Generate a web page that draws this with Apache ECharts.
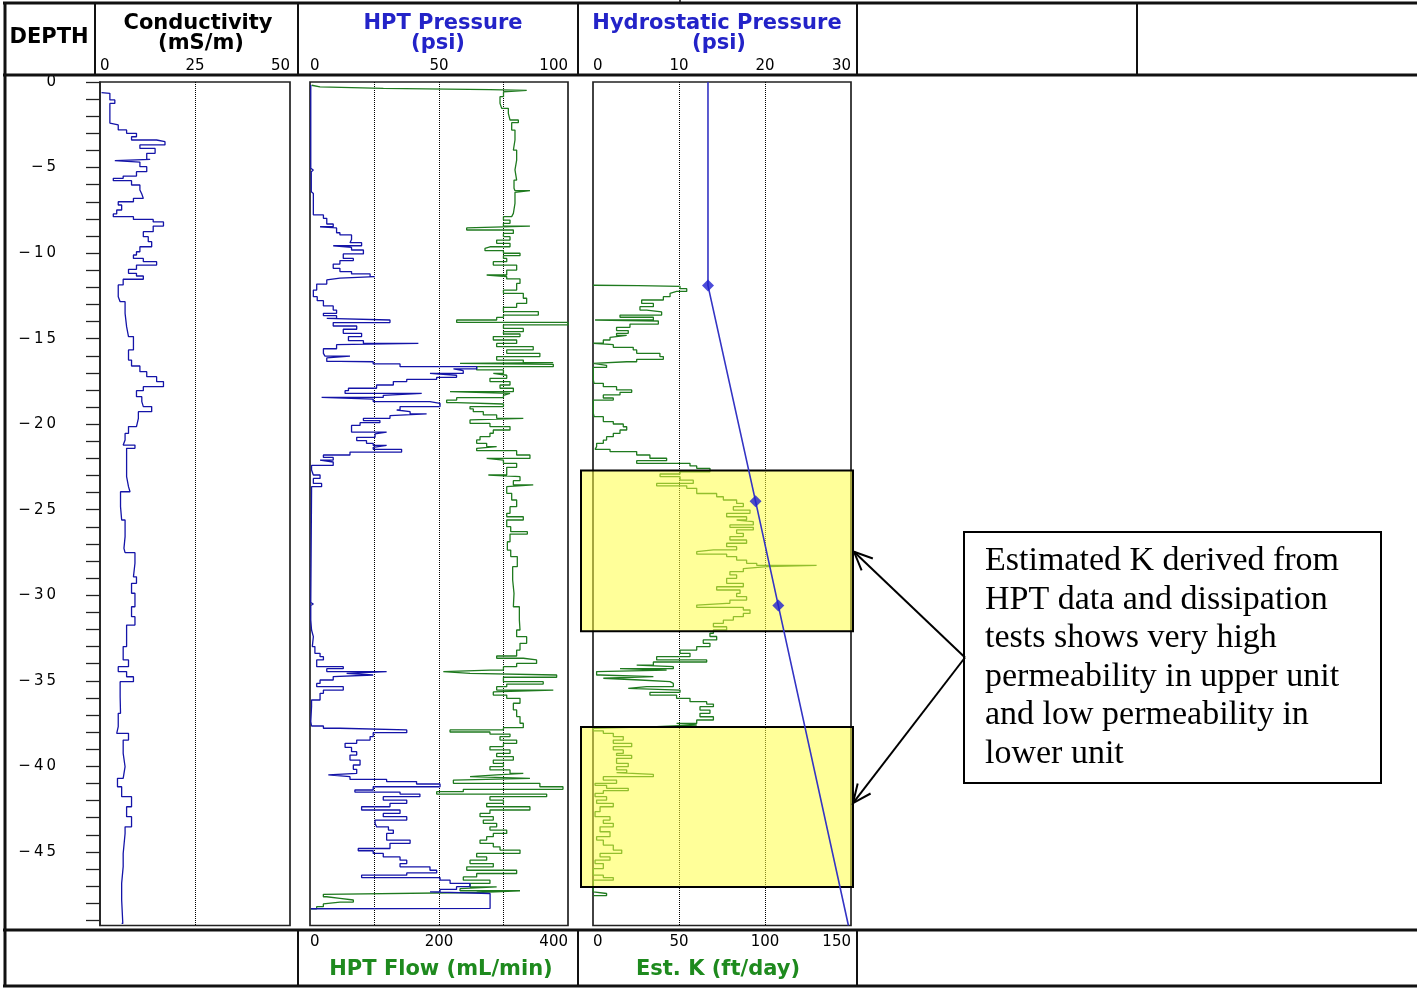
<!DOCTYPE html>
<html>
<head>
<meta charset="utf-8">
<script src="https://cdn.jsdelivr.net/npm/echarts@6/dist/echarts.min.js"></script>
<style>
  html, body { margin: 0; padding: 0; background: #fff; }
  #chart { width: 1417px; height: 988px; }
</style>
</head>
<body>
<div id="chart"></div>
<script>
// ---- Log data: [depth (ft), value] ----
const conductivity = [
  [-0.62, 0.4], [-0.66, 2.6], [-1.05, 3.9], [-1.25, 2.6], [-2.4, 2.6], [-2.51, 4.8], [-2.8, 7.0],
  [-3.0, 9.6], [-3.2, 8.3], [-3.39, 14.9], [-3.49, 17.1], [-3.68, 10.5], [-3.88, 14.5], [-4.17, 12.3],
  [-4.52, 13.2], [-4.6, 3.9], [-4.68, 10.5], [-4.95, 12.3], [-5.24, 9.6], [-5.5, 6.1], [-5.63, 3.5],
  [-5.77, 8.3], [-6.02, 10.5], [-6.31, 11.0], [-6.55, 11.4], [-6.8, 8.8], [-7.0, 4.8], [-7.19, 5.7],
  [-7.48, 4.4], [-7.71, 3.5], [-7.87, 8.8], [-8.03, 14.0], [-8.18, 16.7], [-8.42, 14.0], [-8.75, 11.4],
  [-9.04, 12.7], [-9.33, 13.6], [-9.63, 10.5], [-9.92, 9.6], [-10.11, 8.8], [-10.31, 11.4], [-10.5, 14.9],
  [-10.7, 9.6], [-10.95, 7.5], [-11.18, 9.6], [-11.34, 11.4], [-11.53, 6.1], [-11.86, 4.8], [-12.55, 5.3],
  [-12.84, 6.6], [-13.52, 7.0], [-14.3, 7.5], [-14.88, 8.8], [-15.66, 7.5], [-16.25, 8.3], [-16.6, 10.5],
  [-16.93, 12.3], [-17.22, 14.9], [-17.51, 16.7], [-17.81, 11.4], [-18.04, 9.6], [-18.39, 11.0],
  [-18.68, 11.4], [-18.97, 13.6], [-19.27, 10.1], [-19.66, 9.6], [-20.14, 7.5], [-20.54, 6.6],
  [-20.92, 6.1], [-21.22, 9.2], [-21.41, 7.0], [-22.3, 7.0], [-23.07, 7.5], [-23.65, 7.9], [-23.95, 5.4],
  [-24.82, 5.7], [-25.6, 6.6], [-26.57, 6.3], [-27.26, 6.6], [-27.51, 9.2], [-28.13, 8.8], [-28.92, 9.6],
  [-29.3, 8.3], [-29.88, 9.2], [-30.67, 8.3], [-31.25, 9.2], [-31.74, 7.0], [-32.22, 7.0], [-33.0, 6.1],
  [-33.78, 7.5], [-34.17, 4.8], [-34.46, 7.0], [-34.76, 8.8], [-35.05, 5.3], [-35.93, 5.4], [-36.9, 4.8],
  [-37.68, 4.4], [-38.07, 7.5], [-38.46, 6.1], [-39.24, 6.6], [-40.02, 6.1], [-40.7, 4.6], [-41.19, 5.7],
  [-41.77, 8.3], [-42.36, 7.0], [-42.94, 8.3], [-43.53, 6.6], [-43.92, 6.1], [-45.09, 6.1], [-45.86, 5.7],
  [-46.84, 5.7], [-47.81, 6.0], [-49.18, 5.7]
];

const hptPressure = [
  [-0.17, 0.3], [-5.05, 0.3], [-5.14, 1.3], [-5.24, 0.5], [-6.41, 0.8], [-6.51, 1.3], [-7.64, 1.3],
  [-7.77, 5.2], [-7.97, 6.5], [-8.3, 9.0], [-8.46, 3.9], [-8.53, 10.3], [-8.81, 11.6], [-8.94, 16.1],
  [-9.2, 15.5], [-9.39, 20.0], [-9.57, 9.0], [-9.67, 16.1], [-9.82, 20.7], [-10.05, 12.9], [-10.31, 16.8],
  [-10.44, 11.6], [-10.64, 9.0], [-10.89, 11.6], [-11.08, 16.1], [-11.22, 23.3], [-11.38, 25.2],
  [-11.46, 11.6], [-11.57, 6.5], [-11.81, 2.6], [-12.16, 1.3], [-12.55, 2.8], [-12.78, 5.2], [-13.09, 9.0],
  [-13.33, 10.3], [-13.52, 5.2], [-13.66, 10.3], [-13.81, 6.5], [-13.91, 31.0], [-14.06, 9.0],
  [-14.26, 18.1], [-14.45, 12.9], [-14.69, 20.0], [-14.88, 14.9], [-15.12, 20.7], [-15.28, 42.0],
  [-15.35, 10.3], [-15.59, 5.2], [-15.86, 5.8], [-16.02, 15.5], [-16.13, 6.5], [-16.33, 11.6],
  [-16.35, 24.5], [-16.48, 34.9], [-16.64, 64.6], [-16.77, 55.6], [-16.87, 59.4], [-17.03, 46.5],
  [-17.14, 56.8], [-17.26, 49.1], [-17.38, 37.5], [-17.51, 32.3], [-17.71, 25.8], [-17.9, 14.9],
  [-18.04, 13.6], [-18.2, 43.3], [-18.31, 28.4], [-18.43, 4.5], [-18.53, 24.5], [-18.68, 46.5],
  [-18.78, 50.4], [-18.97, 34.9], [-19.17, 33.6], [-19.27, 38.8], [-19.4, 45.2], [-19.5, 31.0],
  [-19.66, 20.7], [-19.79, 27.1], [-19.91, 19.4], [-20.07, 16.1], [-20.34, 16.1], [-20.46, 29.7],
  [-20.57, 25.2], [-20.77, 18.1], [-20.96, 21.9], [-21.12, 24.5], [-21.24, 29.7], [-21.35, 24.5],
  [-21.47, 35.5], [-21.63, 15.5], [-21.8, 5.2], [-21.94, 9.0], [-22.1, 3.9], [-22.21, 9.0], [-22.41, 0.6],
  [-22.68, 1.3], [-22.97, 3.9], [-23.17, 1.3], [-23.46, 4.5], [-23.65, 0.6], [-23.94, 0.3], [-30.43, 0.3],
  [-30.51, 1.3], [-30.59, 0.3], [-31.45, 0.6], [-32.03, 1.3], [-32.42, 0.9], [-33.0, 1.9], [-33.39, 3.9],
  [-33.59, 5.2], [-33.78, 2.6], [-34.17, 12.9], [-34.29, 6.5], [-34.46, 29.7], [-34.56, 14.2],
  [-34.66, 24.5], [-34.75, 9.0], [-34.95, 3.9], [-35.15, 2.6], [-35.34, 12.9], [-35.54, 5.2], [-35.73, 3.9],
  [-36.12, 0.6], [-36.51, 0.3], [-37.39, 0.6], [-37.64, 5.2], [-37.77, 11.6], [-37.87, 37.5], [-38.03, 24.5],
  [-38.26, 23.3], [-38.46, 18.1], [-38.65, 13.6], [-38.89, 16.1], [-39.14, 18.1], [-39.34, 15.5],
  [-39.63, 19.4], [-39.92, 16.8], [-40.17, 18.1], [-40.41, 18.7], [-40.5, 7.1], [-40.6, 15.5],
  [-40.76, 29.7], [-40.89, 41.3], [-41.03, 50.4], [-41.19, 24.5], [-41.38, 17.4], [-41.5, 34.9],
  [-41.62, 42.6], [-41.77, 28.4], [-41.97, 37.5], [-42.16, 31.0], [-42.36, 20.0], [-42.55, 34.9],
  [-42.75, 28.4], [-42.94, 37.5], [-43.14, 25.2], [-43.33, 25.8], [-43.53, 30.4], [-43.72, 32.3],
  [-43.92, 29.7], [-44.31, 38.8], [-44.5, 31.0], [-44.8, 18.7], [-44.93, 24.5], [-45.09, 28.4],
  [-45.29, 34.9], [-45.48, 37.5], [-45.68, 34.9], [-45.87, 46.5], [-46.07, 49.1], [-46.23, 37.5],
  [-46.36, 20.0], [-46.5, 50.4], [-46.65, 54.3], [-46.84, 62.0], [-47.03, 56.8], [-47.19, 50.4],
  [-47.33, 46.5], [-47.43, 69.8], [-48.3, 69.8], [-48.32, 0.3]
];

const hptFlow = [
  [-0.19, 2.6], [-0.29, 15.5], [-0.37, 113.7], [-0.45, 279], [-0.49, 336], [-0.57, 300], [-0.86, 294.6],
  [-1.25, 297.2], [-1.54, 307.5], [-1.83, 310.1], [-2.22, 323], [-2.38, 312.7], [-2.81, 317.8],
  [-3.39, 315.3], [-3.98, 320.4], [-4.56, 317.8], [-5.14, 320.4], [-5.73, 316.3], [-6.21, 317.8],
  [-6.35, 341], [-6.45, 317.8], [-7.09, 315.3], [-7.68, 312.7], [-7.87, 299.9], [-8.07, 310.1],
  [-8.26, 299.9], [-8.42, 341], [-8.53, 242.9], [-8.65, 315.3], [-8.85, 299.9], [-9.04, 310.1],
  [-9.24, 289.4], [-9.43, 310.1], [-9.63, 279], [-9.72, 271.3], [-9.86, 299.9], [-10.01, 325.6],
  [-10.15, 299.9], [-10.31, 305], [-10.5, 284.2], [-10.7, 320.4], [-10.99, 305], [-11.28, 273.9],
  [-11.38, 305], [-11.51, 325.6], [-11.77, 320.4], [-12.16, 299.9], [-12.35, 330.7], [-12.64, 335.9],
  [-12.94, 320.4], [-13.17, 299.9], [-13.42, 354], [-13.62, 299.9], [-13.76, 289.4], [-13.91, 227.4],
  [-14.05, 400], [-14.2, 299.9], [-14.4, 330.7], [-14.59, 299.9], [-14.73, 325.6], [-14.88, 284.2],
  [-15.08, 320.4], [-15.28, 289.4], [-15.47, 346.1], [-15.66, 305], [-15.86, 356.4], [-16.05, 289.4],
  [-16.25, 330.7], [-16.4, 377], [-16.44, 232.6], [-16.5, 377.2], [-16.64, 258.4], [-16.83, 299.9],
  [-17.03, 284.2], [-17.14, 305], [-17.32, 279], [-17.51, 310.1], [-17.71, 294.6], [-17.9, 315.3],
  [-18.1, 217.1], [-18.2, 310.1], [-18.31, 299.9], [-18.45, 227.4], [-18.59, 211.9], [-18.74, 227.4],
  [-18.82, 299.9], [-18.97, 248.1], [-19.11, 253.2], [-19.27, 268.7], [-19.46, 289.4], [-19.66, 330.7],
  [-19.75, 248.1], [-19.95, 279], [-20.14, 310.1], [-20.34, 284.2], [-20.53, 279], [-20.73, 263.6],
  [-20.92, 258.4], [-21.12, 273.9], [-21.31, 289.4], [-21.41, 258.4], [-21.55, 320.4], [-21.8, 341],
  [-22.0, 273.9], [-22.1, 299.9], [-22.29, 320.4], [-22.52, 305], [-22.97, 276.5], [-23.07, 325.6],
  [-23.3, 315.3], [-23.55, 346.1], [-23.65, 305], [-24.04, 312.7], [-24.43, 320.4], [-24.82, 310.1],
  [-25.21, 305], [-25.41, 330.7], [-25.6, 305], [-25.99, 311.2], [-26.28, 337], [-26.42, 310.1],
  [-26.87, 306], [-27.36, 311.2], [-27.74, 321.4], [-28.33, 314.2], [-29.11, 316.3], [-29.89, 315.3],
  [-30.67, 324.6], [-31.45, 325.6], [-32.03, 320.4], [-32.42, 335.9], [-32.81, 325.6], [-33.2, 320.4],
  [-33.55, 289.4], [-33.68, 330.7], [-33.78, 351.3], [-33.98, 320.4], [-34.17, 299.9], [-34.37, 279],
  [-34.46, 206.7], [-34.56, 248.1], [-34.66, 382.4], [-34.79, 299.9], [-35.05, 361.6], [-35.19, 305],
  [-35.34, 289.4], [-35.54, 377.2], [-35.65, 284.2], [-35.83, 305], [-36.02, 325.6], [-36.31, 315.3],
  [-36.7, 320.4], [-37.09, 325.6], [-37.48, 330.7], [-37.74, 299.9], [-37.87, 217.1], [-37.99, 279],
  [-38.11, 310.1], [-38.26, 294.6], [-38.46, 320.4], [-38.65, 299.9], [-38.85, 279], [-39.04, 310.1],
  [-39.24, 289.4], [-39.43, 315.3], [-39.63, 284.2], [-39.82, 299.9], [-40.02, 279], [-40.21, 310.1],
  [-40.41, 330.7], [-40.5, 289.4], [-40.6, 248.1], [-40.7, 341], [-40.8, 222.3], [-40.99, 356.4],
  [-41.19, 392.2], [-41.34, 237.7], [-41.48, 196.4], [-41.62, 366.9], [-41.77, 279], [-41.97, 299.9],
  [-42.16, 273.9], [-42.36, 341], [-42.55, 279], [-42.75, 263.6], [-42.94, 284.2], [-43.14, 268.7],
  [-43.33, 289.4], [-43.53, 279], [-43.72, 305], [-43.92, 284.2], [-44.11, 273.9], [-44.31, 263.6],
  [-44.5, 284.2], [-44.7, 294.6], [-44.89, 325.6], [-45.09, 258.4], [-45.29, 273.9], [-45.48, 248.1],
  [-45.68, 284.2], [-45.87, 243], [-46.07, 320.4], [-46.26, 258.4], [-46.46, 237.7], [-46.65, 279],
  [-46.84, 248.1], [-47.04, 289.4], [-47.15, 232.6], [-47.27, 325.6], [-47.37, 258.4], [-47.48, 20.7],
  [-47.62, 25.8], [-47.71, 46.5], [-47.81, 67.2], [-47.93, 46.5], [-48.04, 20.7], [-48.2, 10.3],
  [-48.32, 1]
];

const estK = [
  [-11.88, 0], [-11.9, 26.3], [-11.94, 50.6], [-12.08, 54.5], [-12.24, 48.6], [-12.35, 44.8],
  [-12.55, 40.9], [-12.74, 28.3], [-12.94, 35.1], [-13.13, 27.3], [-13.33, 31.2], [-13.44, 39.9],
  [-13.62, 15.7], [-13.75, 35.1], [-13.91, 1.2], [-13.97, 38], [-14.15, 21.5], [-14.34, 13.7],
  [-14.53, 20.5], [-14.69, 13.7], [-14.81, 19.6], [-14.92, 9.9], [-15.08, 6], [-15.27, 0.2],
  [-15.35, 11.8], [-15.51, 23.4], [-15.66, 25.4], [-15.86, 38.9], [-16.05, 40.9], [-16.21, 25.4],
  [-16.35, 19.6], [-16.45, 0.2], [-16.56, 7.9], [-16.68, 0.2], [-17.42, 0.6], [-17.61, 6],
  [-17.81, 13.7], [-18.0, 22.5], [-18.14, 15.7], [-18.29, 6], [-18.47, 11.8], [-18.59, 0.2],
  [-19.37, 0.6], [-19.56, 6], [-19.85, 11.8], [-19.99, 17.6], [-20.15, 19.6], [-20.34, 15.7],
  [-20.54, 11.8], [-20.73, 7.9], [-20.93, 6], [-21.12, 2.1], [-21.31, 1.2], [-21.47, 9.9], [-21.6, 25.4],
  [-21.8, 33.1], [-21.99, 42.8], [-22.13, 25.4], [-22.29, 56.4], [-22.44, 60.3], [-22.58, 68],
  [-22.78, 50.6], [-22.91, 39], [-23.07, 50.6], [-23.27, 58.3], [-23.46, 37], [-23.6, 54.5],
  [-23.75, 60.3], [-24.05, 71.9], [-24.24, 75.8], [-24.43, 83.5], [-24.63, 87.4], [-24.82, 81.6],
  [-25.02, 91.3], [-25.21, 77.7], [-25.41, 89.3], [-25.6, 83.5], [-25.7, 93.2], [-25.89, 79.6],
  [-26.03, 93.2], [-26.18, 83.5], [-26.38, 87.4], [-26.57, 79.6], [-26.77, 89.3], [-26.96, 77.7],
  [-27.16, 83.5], [-27.35, 70], [-27.45, 60.3], [-27.59, 77.7], [-27.74, 83.5], [-27.94, 89.3],
  [-28.13, 95.2], [-28.25, 130], [-28.33, 101], [-28.44, 87.4], [-28.62, 79.6], [-28.81, 83.5],
  [-29.01, 77.7], [-29.3, 87.4], [-29.5, 71.9], [-29.69, 85.5], [-29.89, 83.5], [-30.08, 89.3],
  [-30.28, 79.6], [-30.47, 77.7], [-30.57, 60.3], [-30.71, 87.4], [-30.86, 91.3], [-31.06, 87.4],
  [-31.25, 81.6], [-31.45, 75.8], [-31.64, 70], [-31.84, 77.7], [-32.03, 70], [-32.22, 68],
  [-32.41, 71.9], [-32.61, 64.1], [-32.81, 68], [-33.0, 60.3], [-33.2, 50.6], [-33.39, 56.4],
  [-33.59, 37], [-33.78, 66.1], [-33.9, 35.1], [-34.08, 25.4], [-34.17, 46.7], [-34.29, 15.7],
  [-34.37, 42.8], [-34.46, 2.1], [-34.66, 4.1], [-34.75, 35.1], [-34.85, 6], [-34.95, 27.3],
  [-35.05, 44.8], [-35.15, 46.7], [-35.34, 31.2], [-35.44, 20.5], [-35.54, 50.6], [-35.67, 33.1],
  [-35.83, 48.6], [-36.02, 56.4], [-36.22, 66.1], [-36.36, 70], [-36.51, 62.2], [-36.71, 68],
  [-36.9, 62.2], [-37.1, 70], [-37.29, 60.3], [-37.49, 48.6], [-37.58, 60.3], [-37.68, 37],
  [-37.78, 0.2], [-37.92, 6], [-38.07, 11.8], [-38.26, 17.6], [-38.46, 11.8], [-38.65, 22.5],
  [-38.85, 11.8], [-39.04, 17.6], [-39.24, 13.7], [-39.36, 22.5], [-39.53, 13.7], [-39.82, 20.5],
  [-40.02, 13.7], [-40.21, 19.6], [-40.37, 13.7], [-40.47, 35.1], [-40.6, 6], [-40.8, 13.7],
  [-40.99, 1.2], [-41.11, 7.9], [-41.28, 20.5], [-41.42, 6], [-41.58, 1.2], [-41.77, 7.9], [-41.97, 2.1],
  [-42.16, 11.8], [-42.36, 4.1], [-42.65, 1.2], [-42.94, 9.9], [-43.14, 6], [-43.33, 11.8], [-43.53, 4.1],
  [-43.82, 9.9], [-44.11, 2.1], [-44.31, 6], [-44.6, 11.8], [-44.89, 16.7], [-45.09, 4.1], [-45.29, 9.9],
  [-45.48, 1.2], [-45.68, 6], [-45.97, 0.2], [-46.36, 6], [-46.5, 11.8], [-46.65, 0.2], [-47.33, 0.2],
  [-47.43, 7.9], [-47.55, 0.2]
];

const hydrostatic = [[0, 13.37], [-11.9, 13.37], [-24.5, 18.9], [-30.6, 21.55], [-49.3, 29.7]];
const dissipationTests = [[-11.9, 13.37], [-24.5, 18.9], [-30.6, 21.55]];

// Highlighted depth intervals [top, bottom]
const upperUnit = [-22.7, -32.1];
const lowerUnit = [-37.7, -47.05];

// Depth axis ticks and labels
const depthLabels = [0, -5, -10, -15, -20, -25, -30, -35, -40, -45];
const depthTicks = [];
for (let d = 0; d >= -49; d--) depthTicks.push(d);

const noteLines = [
  'Estimated K derived from',
  'HPT data and dissipation',
  'tests shows very high',
  'permeability in upper unit',
  'and low permeability in',
  'lower unit'
];

// ---- Styling / layout ----
const DEPTH_MIN = -49.3;
const BLUE = '#1414a8';
const GREEN = '#1f7a1f';
const TITLE_BLUE = '#2323c8';
const TITLE_GREEN = '#1e8a1e';
const spaced = s => String(s).split('').join('\u2009');
const scaleLabel = {
  show: true, margin: 8, fontSize: 15, color: '#000', fontFamily: 'DejaVu Sans',
  alignMinLabel: 'left', alignMaxLabel: 'right'
};
const dotted = { show: true, showMinLine: false, showMaxLine: false,
  lineStyle: { type: 'dotted', color: '#000', width: 1 } };
const toXY = arr => arr.map(([d, v]) => [v, d]);

const gridBase = { top: 82, height: 843.5, show: true, borderColor: '#222', borderWidth: 1.7,
  backgroundColor: 'transparent', containLabel: false, outerBoundsMode: 'none' };

const option = {
  animation: false,
  textStyle: { fontFamily: 'DejaVu Sans' },
  grid: [
    Object.assign({ left: 100, width: 190 }, gridBase),
    Object.assign({ left: 310, width: 258 }, gridBase),
    Object.assign({ left: 593, width: 258 }, gridBase)
  ],
  xAxis: [
    { type: 'value', gridIndex: 0, position: 'top', min: 0, max: 50, interval: 25,
      axisLine: { show: false }, axisTick: { show: false }, axisLabel: scaleLabel, splitLine: dotted },
    { type: 'value', gridIndex: 1, position: 'top', min: 0, max: 100, interval: 50,
      axisLine: { show: false }, axisTick: { show: false }, axisLabel: scaleLabel, splitLine: { show: false } },
    { type: 'value', gridIndex: 1, position: 'bottom', min: 0, max: 400, interval: 100,
      axisLine: { show: false }, axisTick: { show: false },
      axisLabel: Object.assign({}, scaleLabel, { margin: 9, formatter: v => (v % 200 === 0 ? String(v) : '') }),
      splitLine: dotted },
    { type: 'value', gridIndex: 2, position: 'top', min: 0, max: 30, interval: 10,
      axisLine: { show: false }, axisTick: { show: false }, axisLabel: scaleLabel, splitLine: dotted },
    { type: 'value', gridIndex: 2, position: 'bottom', min: 0, max: 150, interval: 50,
      axisLine: { show: false }, axisTick: { show: false },
      axisLabel: Object.assign({}, scaleLabel, { margin: 9 }), splitLine: { show: false } }
  ],
  yAxis: [
    { type: 'value', gridIndex: 0, min: DEPTH_MIN, max: 0, position: 'left', offset: 20,
      axisLine: { show: true, lineStyle: { color: '#222', width: 1.5 } },
      axisTick: { show: true, customValues: depthTicks, length: 14, lineStyle: { color: '#222', width: 1.3 } },
      axisLabel: { show: true, customValues: depthLabels, margin: 24, fontSize: 15, color: '#000',
        fontFamily: 'DejaVu Sans',
        formatter: v => (v === 0 ? '0' : spaced('\u2212' + Math.abs(v))) },
      splitLine: { show: false } },
    { type: 'value', gridIndex: 1, min: DEPTH_MIN, max: 0, show: false },
    { type: 'value', gridIndex: 2, min: DEPTH_MIN, max: 0, show: false }
  ],
  series: [
    { name: 'Conductivity', type: 'line', xAxisIndex: 0, yAxisIndex: 0, data: toXY(conductivity),
      step: 'start', symbol: 'none', lineStyle: { color: BLUE, width: 1.3 } },
    { name: 'HPT Flow', type: 'line', xAxisIndex: 2, yAxisIndex: 1, data: toXY(hptFlow),
      step: 'start', symbol: 'none', lineStyle: { color: GREEN, width: 1.3 } },
    { name: 'HPT Pressure', type: 'line', xAxisIndex: 1, yAxisIndex: 1, data: toXY(hptPressure),
      step: 'start', symbol: 'none', lineStyle: { color: BLUE, width: 1.3 } },
    { name: 'Est. K', type: 'line', xAxisIndex: 4, yAxisIndex: 2, data: toXY(estK),
      step: 'start', symbol: 'none', lineStyle: { color: GREEN, width: 1.3 } },
    { name: 'Hydrostatic Pressure', type: 'line', xAxisIndex: 3, yAxisIndex: 2, data: toXY(hydrostatic),
      z: 25, symbol: 'none', lineStyle: { color: '#3434c4', width: 1.6 } },
    { name: 'Dissipation tests', type: 'scatter', xAxisIndex: 3, yAxisIndex: 2, data: toXY(dissipationTests),
      z: 26, symbol: 'diamond', symbolSize: [12, 12], itemStyle: { color: '#1f1fd0' } }
  ]
};

const chart = echarts.init(document.getElementById('chart'), null, { renderer: 'canvas' });
chart.setOption(option);

// ---- Table frame, titles, highlight boxes and note ----
function line(x1, y1, x2, y2, w) {
  return { type: 'line', z: 30, silent: true, shape: { x1, y1, x2, y2 },
    style: { stroke: '#111', lineWidth: w || 2 } };
}
function text(str, x, y, color, font) {
  return { type: 'text', z: 30, silent: true, x, y,
    style: { text: str, fill: color, font: font || 'bold 21px "DejaVu Sans"', align: 'center', verticalAlign: 'middle' } };
}
function arrow(from, tip) {
  const dx = from[0] - tip[0], dy = from[1] - tip[1];
  const len = Math.hypot(dx, dy), ux = dx / len, uy = dy / len;
  const a = 24 * Math.PI / 180, L = 20;
  const w1 = [tip[0] + L * (ux * Math.cos(a) - uy * Math.sin(a)), tip[1] + L * (ux * Math.sin(a) + uy * Math.cos(a))];
  const w2 = [tip[0] + L * (ux * Math.cos(-a) - uy * Math.sin(-a)), tip[1] + L * (ux * Math.sin(-a) + uy * Math.cos(-a))];
  return [
    { type: 'polyline', z: 31, silent: true, shape: { points: [from, tip] }, style: { stroke: '#000', lineWidth: 2, fill: null } },
    { type: 'polyline', z: 31, silent: true, shape: { points: [w1, tip, w2] }, style: { stroke: '#000', lineWidth: 2, fill: null } }
  ];
}

const px = (k, d) => chart.convertToPixel({ xAxisIndex: 4, yAxisIndex: 2 }, [k, d]);
function unitBox(range) {
  const tl = px(0, range[0]), br = px(150, range[1]);
  const x0 = tl[0] - 12, x1 = br[0] + 2;
  return { rect: { type: 'rect', z: 20, silent: true,
      shape: { x: x0, y: tl[1], width: x1 - x0, height: br[1] - tl[1] },
      style: { fill: 'rgba(255,255,60,0.52)', stroke: '#000', lineWidth: 2 } },
    right: x1, mid: (tl[1] + br[1]) / 2 };
}
const boxA = unitBox(upperUnit);
const boxB = unitBox(lowerUnit);

const note = { x: 964, y: 532, w: 417, h: 251 };
const tail = [note.x + 1, note.y + note.h / 2];

const graphics = [
  // outer frame and rows
  line(3, 3, 1417, 3, 3), line(3, 75, 1417, 75, 3), line(3, 930, 1417, 930, 3), line(3, 986, 1417, 986, 3),
  line(5, 2, 5, 987, 3),
  line(680, 0, 680, 4, 1.5),
  // header cells
  line(95, 3, 95, 75, 2), line(298, 3, 298, 75, 2), line(578, 3, 578, 75, 2),
  line(857, 3, 857, 75, 2), line(1137, 3, 1137, 75, 2),
  // footer cells
  line(298, 930, 298, 986, 2), line(578, 930, 578, 986, 2), line(857, 930, 857, 986, 2),
  // titles
  text('DEPTH', 49, 38, '#000'),
  text('Conductivity', 198, 24, '#000'), text('(mS/m)', 201, 44, '#000'),
  text('HPT Pressure', 443, 24, TITLE_BLUE), text('(psi)', 438, 44, TITLE_BLUE),
  text('Hydrostatic Pressure', 717, 24, TITLE_BLUE), text('(psi)', 719, 44, TITLE_BLUE),
  text('HPT Flow (mL/min)', 441, 970, TITLE_GREEN), text('Est. K (ft/day)', 718, 970, TITLE_GREEN),
  // highlighted units
  boxA.rect, boxB.rect,
  // note
  { type: 'rect', z: 30, silent: true, shape: { x: note.x, y: note.y, width: note.w, height: note.h },
    style: { fill: '#fff', stroke: '#000', lineWidth: 2 } },
  { type: 'text', z: 31, silent: true, x: 985, y: 542,
    style: { text: noteLines.join('\n'), fill: '#000', font: '34px "Liberation Serif"', lineHeight: 38.5,
      align: 'left', verticalAlign: 'top' } }
].concat(arrow(tail, [boxA.right + 1, boxA.mid + 1]), arrow(tail, [boxB.right, boxB.mid - 4]));

chart.setOption({ graphic: graphics });
</script>
</body>
</html>
